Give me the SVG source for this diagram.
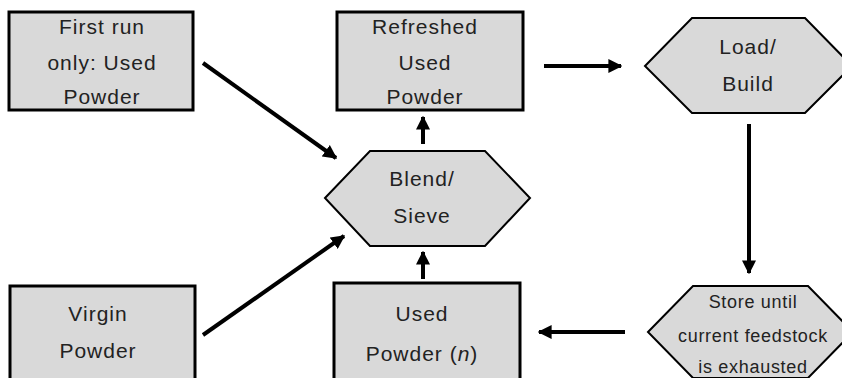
<svg xmlns="http://www.w3.org/2000/svg" width="842" height="378" viewBox="0 0 842 378">
  <defs>
    <marker id="head" viewBox="0 0 10 10" refX="9" refY="5" markerUnits="userSpaceOnUse" markerWidth="14" markerHeight="14" orient="auto">
      <path d="M0,0 L10,5 L0,10 z" fill="#000"/>
    </marker>
    <style>
      .box { fill: #d9d9d9; stroke: #000; stroke-width: 3; }
      .hex { fill: #d9d9d9; stroke: #000; stroke-width: 2; stroke-linejoin: miter; }
      .lbl { font-family: "Liberation Sans", Arial, sans-serif; font-size: 21px; fill: #222; text-anchor: middle; letter-spacing: 1px; }
      .small { font-size: 18px; letter-spacing: 0.7px; }
      .arrow { stroke: #000; stroke-width: 4; fill: none; marker-end: url(#head); }
    </style>
  </defs>
  <rect width="842" height="378" fill="#fff"/>

  <!-- process nodes -->
  <g id="first-run">
    <rect class="box" x="9" y="12" width="184" height="98"/>
    <text class="lbl" x="102" y="34">First run</text>
    <text class="lbl" x="102" y="70">only: Used</text>
    <text class="lbl" x="102" y="104">Powder</text>
  </g>

  <g id="refreshed">
    <rect class="box" x="337" y="12" width="186" height="98"/>
    <text class="lbl" x="425" y="34">Refreshed</text>
    <text class="lbl" x="425" y="70">Used</text>
    <text class="lbl" x="425" y="104">Powder</text>
  </g>

  <g id="load-build">
    <polygon class="hex" points="645,66 692,18 805,18 852,66 805,113 692,113"/>
    <text class="lbl" x="748" y="54">Load/</text>
    <text class="lbl" x="748" y="91">Build</text>
  </g>

  <g id="blend-sieve">
    <polygon class="hex" points="325,198 370,151 485,151 530,198 485,246 370,246"/>
    <text class="lbl" x="422" y="186">Blend/</text>
    <text class="lbl" x="422" y="223">Sieve</text>
  </g>

  <g id="store">
    <polygon class="hex" points="648,332 693,286 808,286 853,332 808,378 693,378"/>
    <text class="lbl small" x="753" y="308">Store until</text>
    <text class="lbl small" x="753" y="342">current feedstock</text>
    <text class="lbl small" x="753" y="373">is exhausted</text>
  </g>

  <g id="virgin">
    <rect class="box" x="10" y="286" width="185" height="100"/>
    <text class="lbl" x="98" y="321">Virgin</text>
    <text class="lbl" x="98" y="358">Powder</text>
  </g>

  <g id="used-n">
    <rect class="box" x="334" y="283" width="186" height="103"/>
    <text class="lbl" x="422" y="321">Used</text>
    <text class="lbl" x="422" y="361">Powder (<tspan font-style="italic">n</tspan>)</text>
  </g>

  <!-- connectors -->
  <g id="connectors">
    <line class="arrow" x1="203" y1="63" x2="336" y2="158"/>
    <line class="arrow" x1="203" y1="335" x2="344" y2="236"/>
    <line class="arrow" x1="544" y1="66" x2="621" y2="66"/>
    <line class="arrow" x1="749" y1="124" x2="749" y2="273"/>
    <line class="arrow" x1="625" y1="332" x2="539" y2="332"/>
    <line class="arrow" x1="423" y1="144" x2="423" y2="117"/>
    <line class="arrow" x1="423" y1="279" x2="423" y2="252"/>
  </g>
</svg>
